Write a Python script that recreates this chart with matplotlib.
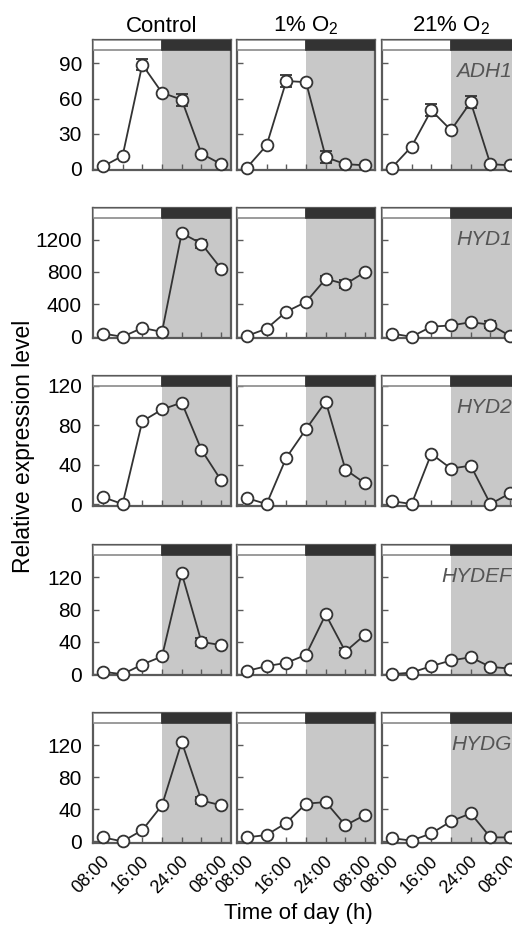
import matplotlib
matplotlib.use('Agg')
import matplotlib.pyplot as plt
import matplotlib.transforms as mtransforms
from matplotlib.patches import Rectangle

plt.rcParams['font.family'] = ['Liberation Sans', 'DejaVu Sans']
plt.rcParams['mathtext.fontset'] = 'custom'
plt.rcParams['mathtext.rm'] = 'Liberation Sans'

# hours after 08:00
times = [0, 4, 8, 12, 16, 20, 24]
xtick_pos = [0, 8, 16, 24]
xtick_labels = ['08:00', '16:00', '24:00', '08:00']

conditions = ['Control', '1% O$_2$', '21% O$_2$']
genes = ['ADH1', 'HYD1', 'HYD2', 'HYDEF', 'HYDG']

adh1_control = [2, 11, 89, 65, 59, 13, 4]
adh1_1pct = [1, 20, 75, 74, 10, 4, 3]
adh1_21pct = [1, 19, 50, 33, 57, 4, 3]
hyd1_control = [40, 0, 110, 60, 1280, 1150, 840]
hyd1_1pct = [10, 100, 310, 430, 715, 650, 800]
hyd1_21pct = [40, 0, 125, 140, 180, 150, 10]
hyd2_control = [7, 0, 84, 96, 103, 55, 24]
hyd2_1pct = [6, 0, 47, 76, 104, 35, 21]
hyd2_21pct = [3, 0, 51, 36, 39, 0, 11]
hydef_control = [3, 0, 12, 22, 125, 40, 36]
hydef_1pct = [4, 10, 14, 24, 74, 28, 49]
hydef_21pct = [0, 2, 10, 17, 21, 9, 7]
hydg_control = [5, 0, 14, 45, 124, 51, 45]
hydg_1pct = [5, 8, 23, 47, 49, 20, 33]
hydg_21pct = [4, 1, 10, 25, 35, 5, 5]

# error bars (SD), mostly hidden by the markers
adh1_err = [[0, 0, 5, 0, 5, 0, 0], [0, 0, 5, 0, 5, 0, 0], [0, 0, 5, 0, 5, 0, 0]]
hyd1_err = [[0, 0, 0, 0, 0, 50, 0], [0, 0, 0, 0, 30, 50, 0], [0, 0, 0, 0, 0, 40, 0]]
hyd2_err = [[0] * 7, [0] * 7, [0] * 7]
hydef_err = [[0, 0, 0, 0, 0, 5, 0], [0, 0, 0, 0, 0, 4, 0], [0, 0, 0, 0, 0, 3, 0]]
hydg_err = [[0, 0, 0, 0, 0, 4, 0], [0] * 7, [0] * 7]

data = [
    [adh1_control, adh1_1pct, adh1_21pct],
    [hyd1_control, hyd1_1pct, hyd1_21pct],
    [hyd2_control, hyd2_1pct, hyd2_21pct],
    [hydef_control, hydef_1pct, hydef_21pct],
    [hydg_control, hydg_1pct, hydg_21pct],
]
errors = [adh1_err, hyd1_err, hyd2_err, hydef_err, hydg_err]

ylims = [(-1, 110), (-15, 1590), (-2, 130), (-1, 160), (-2, 160)]
yticks = [[0, 30, 60, 90], [0, 400, 800, 1200], [0, 40, 80, 120],
          [0, 40, 80, 120], [0, 40, 80, 120]]

W, H = 512, 932
fig = plt.figure(figsize=(W / 100, H / 100), dpi=100)

col_left = [93, 237, 382]
row_top = [40, 208, 376, 545, 713]
ax_w, ax_h = 138, 130
bar_frac = 0.075

spine_c = '#5a5a5a'
line_c = '#333333'

for r, gene in enumerate(genes):
    for c in range(3):
        ax = fig.add_axes([col_left[c] / W, 1 - (row_top[r] + ax_h) / H,
                           ax_w / W, ax_h / H])
        ax.set_xlim(-2, 26)
        ax.set_ylim(*ylims[r])
        # dark period shading
        ax.axvspan(12, 26, color='#c8c8c8', lw=0, zorder=0)
        # light/dark bar on top
        trans = mtransforms.blended_transform_factory(ax.transData, ax.transAxes)
        ax.add_patch(Rectangle((-2, 1 - bar_frac), 14, bar_frac, transform=trans,
                               facecolor='white', edgecolor='#8a8a8a', lw=1.2, zorder=3))
        ax.add_patch(Rectangle((12, 1 - bar_frac), 14, bar_frac, transform=trans,
                               facecolor='#333333', edgecolor='#333333', lw=1.2, zorder=3))

        ax.errorbar(times, data[r][c], yerr=errors[r][c], color=line_c, lw=1.3,
                    marker='o', ms=8.5, mfc='white', mec=line_c, mew=1.3,
                    capsize=4.5, elinewidth=1.3, capthick=1.3, clip_on=False, zorder=4)

        for s in ax.spines.values():
            s.set_color(spine_c)
            s.set_linewidth(1.6)
        ax.set_xticks(times)
        ax.set_yticks(yticks[r])
        ax.tick_params(direction='in', length=4, width=1, color=spine_c,
                       labelsize=15, pad=8)
        if c == 0:
            ax.set_yticklabels([str(v) for v in yticks[r]])
        else:
            ax.set_yticklabels([])
        if r == len(genes) - 1:
            ax.set_xticks(xtick_pos, xtick_labels)
            ax.set_xticks(times, minor=True)
            ax.tick_params(axis='x', which='minor', direction='in', length=4,
                           width=1, color=spine_c)
            ax.tick_params(axis='x', which='major', pad=7, labelsize=13)
            offset = mtransforms.ScaledTranslation(0.10, 0, fig.dpi_scale_trans)
            for lab in ax.get_xticklabels():
                lab.set_rotation(45)
                lab.set_ha('right')
                lab.set_va('top')
                lab.set_transform(lab.get_transform() + offset)
        else:
            ax.set_xticklabels([])
        if r == 0:
            ax.set_title(conditions[c], fontsize=16, pad=6)
        if c == 2:
            ax.text(0.94, 0.76, gene, transform=ax.transAxes, ha='right',
                    va='center', fontsize=15, style='italic', color='#555555',
                    zorder=5)

fig.text(24 / W, 1 - 446 / H, 'Relative expression level', rotation=90,
         ha='center', va='center', fontsize=16.5)
fig.text(298 / W, 1 - 914 / H, 'Time of day (h)', ha='center', va='center',
         fontsize=16)

fig.savefig('out.png', dpi=100)
